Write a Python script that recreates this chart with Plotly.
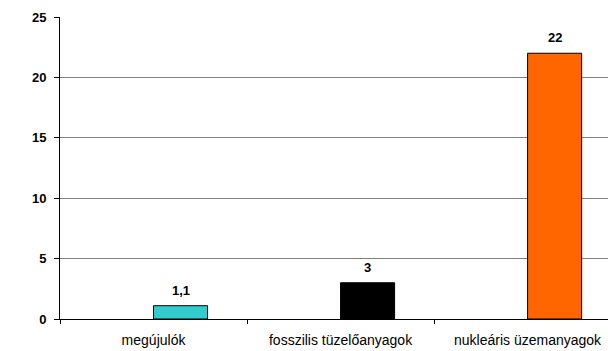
import plotly.graph_objects as go

# Energy source categories and their values
categories = ["megújulók", "fosszilis tüzelőanyagok", "nukleáris üzemanyagok"]
values = [1.1, 3, 22]
value_labels = ["1,1", "3", "22"]
bar_colors = ["#33CCCC", "#000000", "#FF6600"]
y_ticks = [0, 5, 10, 15, 20, 25]

FONT = "Liberation Sans, Arial, sans-serif"
BAR_WIDTH = 0.289  # in category units; bars start at the category position

fig = go.Figure(
    go.Bar(
        x=categories,
        y=values,
        marker=dict(color=bar_colors, line=dict(color="#000000", width=1)),
        width=BAR_WIDTH,
        offset=0,
        cliponaxis=False,
        hoverinfo="x+y",
    )
)

# Value labels above each bar, centred on the bar
for cat, val, lab in zip(categories, values, value_labels):
    fig.add_annotation(
        x=cat,
        y=val,
        text=lab,
        showarrow=False,
        xanchor="center",
        yanchor="bottom",
        xshift=27,
        yshift=6,
        font=dict(family=FONT, size=13, color="#000000", weight="bold"),
    )

fig.update_layout(
    width=608,
    height=351,
    margin=dict(l=60, r=0, t=17, b=32),
    paper_bgcolor="#FFFFFF",
    plot_bgcolor="#FFFFFF",
    showlegend=False,
    font=dict(family=FONT, size=13, color="#000000"),
    xaxis=dict(
        type="category",
        range=[-0.5, 2.43],
        showline=True,
        linecolor="#000000",
        linewidth=1,
        ticks="outside",
        ticklen=4,
        tickcolor="#000000",
        tickson="boundaries",
        showgrid=False,
        ticklabelstandoff=8,
        tickfont=dict(family=FONT, size=14, color="#000000"),
    ),
    yaxis=dict(
        range=[0, 25],
        tickvals=y_ticks,
        showline=True,
        linecolor="#000000",
        linewidth=1,
        ticks="outside",
        ticklen=5,
        tickcolor="#000000",
        showgrid=True,
        gridcolor="#808080",
        gridwidth=1,
        zeroline=False,
        ticklabelstandoff=5,
        tickfont=dict(family=FONT, size=13, color="#000000", weight="bold"),
    ),
)

fig.write_html("out.html")
